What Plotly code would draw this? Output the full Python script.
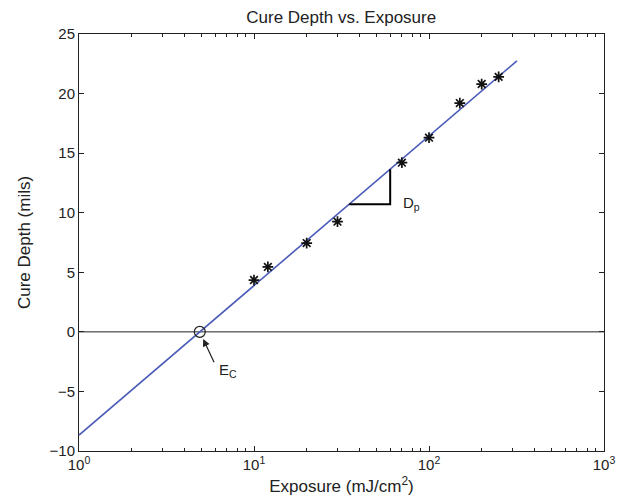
import numpy as np
import plotly.graph_objects as go

# Measured data
exposure = [10, 12, 20, 30, 70, 100, 150, 200, 250]
cure_depth = [4.35, 5.45, 7.45, 9.25, 14.2, 16.3, 19.2, 20.8, 21.4]

# Working-curve fit parameters
Ec = 4.9      # critical exposure (mJ/cm^2)
Dp = 5.45     # penetration depth (mils)
line_x = [1, 318]
tri_x = [35, 60]

x_tickvals = [1, 10, 100, 1000]
x_ticktext = ["10<sup>0</sup>", "10<sup>1</sup>", "10<sup>2</sup>", "10<sup>3</sup>"]
y_tickvals = [-10, -5, 0, 5, 10, 15, 20, 25]

def fit(e):
    return Dp * np.log(np.asarray(e, dtype=float) / Ec)

minor_vals = [m * 10 ** d for d in range(3) for m in range(2, 10)]
FONT = "Liberation Sans, Arial, Helvetica"
INK = "#222222"

fig = go.Figure()

# zero line
fig.add_trace(go.Scatter(x=[1, 1000], y=[0, 0], mode="lines",
                         line=dict(color=INK, width=1), hoverinfo="skip"))
# fit line
fig.add_trace(go.Scatter(x=line_x, y=fit(line_x), mode="lines",
                         line=dict(color="#4a5bb8", width=1.6), hoverinfo="skip"))
# slope triangle
ty = fit(tri_x)
fig.add_trace(go.Scatter(x=[tri_x[0], tri_x[1], tri_x[1]], y=[ty[0], ty[0], ty[1]],
                         mode="lines", line=dict(color="black", width=2), hoverinfo="skip"))
# data markers
fig.add_trace(go.Scatter(x=exposure, y=cure_depth, mode="markers",
                         marker=dict(symbol="asterisk-open", size=9, color="#111111",
                                     line=dict(color="#111111", width=1.7))))
# Ec circle
fig.add_trace(go.Scatter(x=[Ec], y=[0], mode="markers",
                         marker=dict(symbol="circle-open", size=11, color=INK,
                                     line=dict(color=INK, width=1.2))))

fig.add_annotation(x=np.log10(Ec), y=0, ax=15, ay=32, xref="x", yref="y",
                   showarrow=True, arrowhead=2, arrowsize=1.2, arrowwidth=1.2,
                   arrowcolor=INK, standoff=8, text="")
fig.add_annotation(x=0.79, y=-2.3, xref="x", yref="y",
                   text="E<sub>C</sub>", showarrow=False, xanchor="left", yanchor="top",
                   font=dict(size=15, color=INK))
fig.add_annotation(x=1.84, y=10.8, xref="x", yref="y",
                   text="D<sub>p</sub>", showarrow=False, xanchor="left", yanchor="middle",
                   font=dict(size=15, color=INK))

axis_common = dict(showgrid=False, zeroline=False, showline=True, linecolor=INK,
                   linewidth=1, mirror="ticks", ticks="inside", ticklen=5,
                   tickcolor=INK, tickfont=dict(size=15, color=INK, family=FONT),
                   automargin=False)

fig.update_layout(
    width=617, height=499,
    margin=dict(l=79, r=13, t=34, b=48),
    paper_bgcolor="white", plot_bgcolor="white",
    showlegend=False,
    font=dict(family=FONT, size=15, color=INK),
    title=dict(text="Cure Depth vs. Exposure", x=0.553, xanchor="center",
               y=0.966, yanchor="middle", font=dict(size=17)),
    xaxis=dict(type="log", range=[0, 3], tickvals=x_tickvals, ticktext=x_ticktext,
               minor=dict(tickvals=minor_vals, ticks="inside", ticklen=3, tickcolor=INK),
               ticklabelstandoff=0,
               title=dict(text="Exposure (mJ/cm<sup>2</sup>)", standoff=8, font=dict(size=17)),
               **axis_common),
    yaxis=dict(range=[-10, 25], tickvals=y_tickvals,
               ticktext=[("\u2212" + str(abs(v))) if v < 0 else str(v) for v in y_tickvals],
               ticklabelstandoff=0,
               title=dict(text="Cure Depth (mils)", standoff=14, font=dict(size=17)),
               **axis_common),
)

fig.write_html("out.html", config={"displayModeBar": False},
               post_script="document.body.style.margin='0';")
